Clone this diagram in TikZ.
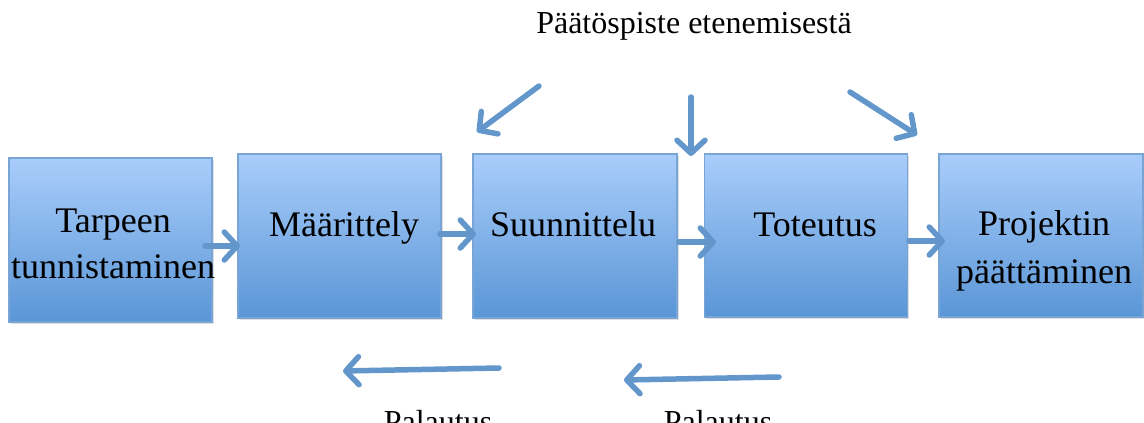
\documentclass[tikz,border=0pt]{standalone}
\usepackage{fontspec}
\setmainfont{Liberation Serif}
\usetikzlibrary{arrows.meta,shadows}
\definecolor{boxtop}{HTML}{A9CDFB}
\definecolor{boxbot}{HTML}{5A96D6}
\definecolor{boxline}{HTML}{78A4D6}
\definecolor{arr}{HTML}{6396CB}
\tikzset{
  stagebox/.style={draw=boxline, line width=1.2pt, top color=boxtop, bottom color=boxbot,
    rectangle, inner sep=0pt, drop shadow={opacity=0.25, shadow xshift=1.5pt, shadow yshift=-2pt}},
  stagetext/.style={font=\fontsize{36}{46}\selectfont, align=center, anchor=base, inner sep=0pt},
  flow/.style={draw=arr, line width=5.5pt, line cap=round, -{Straight Barb[length=13pt, width=28pt, line width=5.5pt, round]}},
  note/.style={font=\fontsize{32}{38}\selectfont, anchor=base, inner sep=0pt}
}
\begin{document}
\begin{tikzpicture}[x=1pt, y=-1pt]
\useasboundingbox (0,0) rectangle (1144,423);
\clip (0,0) rectangle (1144,423);
% boxes
\node[stagebox, minimum width=203pt, minimum height=164pt] (b1) at (110.5,240) {};
\node[stagebox, minimum width=203pt, minimum height=164pt] (b2) at (339.5,236) {};
\node[stagebox, minimum width=204pt, minimum height=164pt] (b3) at (575,236) {};
\node[stagebox, minimum width=203pt, minimum height=163pt] (b4) at (806,235.5) {};
\node[stagebox, minimum width=204pt, minimum height=163pt] (b5) at (1041,235.5) {};
% texts
\node[stagetext] (t1a) at (113,232) {Tarpeen};
\node[stagetext] (t1b) at (113,278) {tunnistaminen};
\node[stagetext] (t2) at (344,236) {Määrittely};
\node[stagetext] (t3) at (573,236) {Suunnittelu};
\node[stagetext] (t4) at (815,236) {Toteutus};
\node[stagetext] (t5a) at (1044,235) {Projektin};
\node[stagetext] (t5b) at (1044,283) {päättäminen};
% horizontal arrows between boxes
\coordinate (h1s) at (205,246); \coordinate (h1e) at (240,246);
\coordinate (h2s) at (440,234); \coordinate (h2e) at (476,234);
\coordinate (h3s) at (679,242); \coordinate (h3e) at (716,242);
\coordinate (h4s) at (909,241); \coordinate (h4e) at (945,241);
\draw[flow] (h1s) -- (h1e);
\draw[flow] (h2s) -- (h2e);
\draw[flow] (h3s) -- (h3e);
\draw[flow] (h4s) -- (h4e);
% decision point label and arrows
\node[note] (dp) at (694,33) {Päätöspiste etenemisestä};
\coordinate (d1s) at (539,86); \coordinate (d1e) at (477,132);
\coordinate (d2s) at (691,97); \coordinate (d2e) at (691,156);
\coordinate (d3s) at (850,92); \coordinate (d3e) at (917,135);
\draw[flow] (d1s) -- (d1e);
\draw[flow] (d2s) -- (d2e);
\draw[flow] (d3s) -- (d3e);
% feedback arrows
\coordinate (p1s) at (499,368); \coordinate (p1e) at (343,371);
\coordinate (p2s) at (779,377); \coordinate (p2e) at (624,380);
\draw[flow] (p1s) -- (p1e);
\draw[flow] (p2s) -- (p2e);
\node[note] (pl1) at (438,432) {Palautus};
\node[note] (pl2) at (718,432) {Palautus};
\end{tikzpicture}
\end{document}
